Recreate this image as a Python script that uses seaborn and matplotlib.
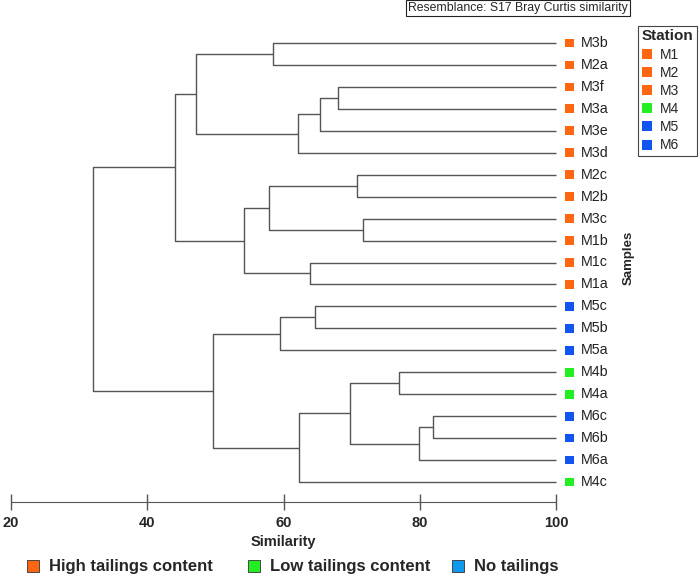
import numpy as np
import seaborn as sns
import matplotlib.pyplot as plt
from matplotlib.lines import Line2D

# samples in dendrogram order (top to bottom) and their station
samples = ["M3b", "M2a", "M3f", "M3a", "M3e", "M3d", "M2c", "M2b", "M3c", "M1b",
           "M1c", "M1a", "M5c", "M5b", "M5a", "M4b", "M4a", "M6c", "M6b", "M6a", "M4c"]
stations = [s[:2] for s in samples]

# merges: (left child, right child, similarity); children are sample names or merge index
merges = [
    ("M3b", "M2a", 58.5),   # 0
    ("M3f", "M3a", 68.0),   # 1
    (1, "M3e", 65.4),       # 2
    (2, "M3d", 62.2),       # 3
    (0, 3, 47.2),           # 4
    ("M2c", "M2b", 70.8),   # 5
    ("M3c", "M1b", 71.6),   # 6
    (5, 6, 57.8),           # 7
    ("M1c", "M1a", 63.9),   # 8
    (7, 8, 54.2),           # 9
    (4, 9, 44.1),           # 10
    ("M5c", "M5b", 64.6),   # 11
    (11, "M5a", 59.5),      # 12
    ("M4b", "M4a", 77.0),   # 13
    ("M6c", "M6b", 82.0),   # 14
    (14, "M6a", 79.9),      # 15
    (13, 15, 69.8),         # 16
    (16, "M4c", 62.3),      # 17
    (12, 17, 49.6),         # 18
    (10, 18, 32.1),         # 19
]

station_names = ["M1", "M2", "M3", "M4", "M5", "M6"]
station_colors = {"M1": "#ff6611", "M2": "#ff6611", "M3": "#ff6611",
                  "M4": "#22ee22", "M5": "#1155ee", "M6": "#1155ee"}
group_labels = ["High tailings content", "Low tailings content", "No tailings"]
group_colors = ["#ff6611", "#22ee22", "#1199ee"]
sim_ticks = [20, 40, 60, 80, 100]

sns.set_style("white")
plt.rcParams["font.family"] = ["Liberation Sans", "DejaVu Sans"]

fig = plt.figure(figsize=(7, 5.79), dpi=100)
ax = fig.add_axes([0, 77 / 579, 1, 502 / 579])
ax.set_xlim(20 - 11 / 6.8125, 20 + 689 / 6.8125)
ax.set_ylim((502 - 43) / 21.95, -43 / 21.95)

# node positions
pos = {s: (100.0, i) for i, s in enumerate(samples)}
line_kw = dict(color="#555555", lw=1.0, solid_capstyle="butt")
for k, (a, b, sim) in enumerate(merges):
    xa, ya = pos[a]
    xb, yb = pos[b]
    ax.plot([xa, sim, sim, xb], [ya, ya, yb, yb], **line_kw)
    pos[k] = (sim, (ya + yb) / 2)

ys = np.arange(len(samples))
ax.scatter(np.full(len(samples), 102.0), ys, marker="s", s=40,
           c=[station_colors[s] for s in stations], linewidths=0, clip_on=False)
for y, s in zip(ys, samples):
    ax.text(103.7, y, s, va="center", ha="left", fontsize=10.3, color="#222222")

ax.text(110.6, 9.8, "Samples", rotation=90, va="center", ha="center",
        fontsize=9.5, fontweight="bold")

# bottom similarity axis
for side in ["top", "right", "left"]:
    ax.spines[side].set_visible(False)
ax.spines["bottom"].set_bounds(20, 100)
ax.spines["bottom"].set_color("#555555")
ax.set_xticks(sim_ticks)
ax.set_xticklabels([str(t) for t in sim_ticks], fontweight="bold", fontsize=10.5)
ax.tick_params(axis="x", bottom=True, direction="inout", length=12, width=1,
               color="#555555", pad=4)
ax.set_yticks([])
fig.text(283 / 700, 1 - 542 / 579, "Similarity", ha="center", va="center",
         fontsize=10.5, fontweight="bold")

# station legend
handles = [Line2D([], [], marker="s", ls="", markersize=7, markeredgewidth=0,
                  markerfacecolor=station_colors[n]) for n in station_names]
leg = fig.legend(handles, station_names, loc="upper right",
                 bbox_to_anchor=(697 / 700, 1 - 26 / 579), fontsize=10,
                 title="Station", title_fontproperties={"weight": "bold", "size": 11},
                 alignment="left", fancybox=False, edgecolor="#444444", framealpha=1,
                 handlelength=0.8, handletextpad=0.5, labelspacing=0.3,
                 borderpad=0.25, borderaxespad=0)
leg.get_frame().set_linewidth(0.8)

# group legend, one entry per block
group_x = [26, 247, 451]
for gx, lab, c in zip(group_x, group_labels, group_colors):
    h = Line2D([], [], marker="s", ls="", markersize=8, markeredgewidth=0.6,
               markeredgecolor="#333333", markerfacecolor=c)
    g = fig.legend([h], [lab], loc="center left",
                   bbox_to_anchor=(gx / 700, 1 - 567 / 579), frameon=False,
                   prop={"weight": "bold", "size": 12}, handlelength=0.8,
                   handletextpad=0.6, borderaxespad=0, borderpad=0)

fig.text(518 / 700, 1 - 8 / 579, "Resemblance: S17 Bray Curtis similarity",
         ha="center", va="center", fontsize=8.8,
         bbox=dict(boxstyle="square,pad=0.2", fc="white", ec="#222222", lw=0.8))

fig.savefig("out.png", dpi=100)
